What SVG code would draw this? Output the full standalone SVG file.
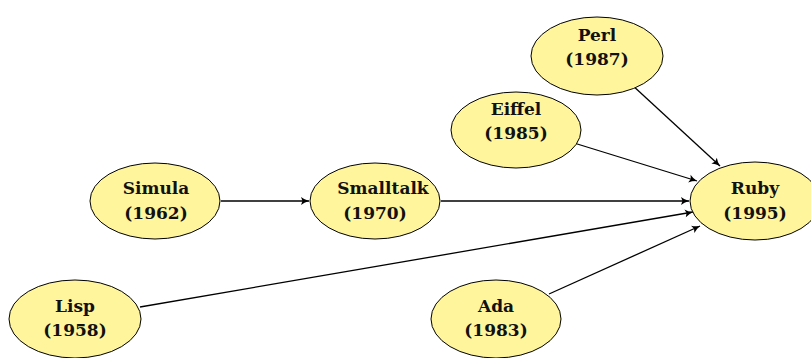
<svg xmlns="http://www.w3.org/2000/svg" width="811" height="358" viewBox="0 0 811 358">
<defs>
<marker id="arr" viewBox="-10 -5 12 10" refX="0" refY="0" markerWidth="12" markerHeight="10" markerUnits="userSpaceOnUse" orient="auto">
<path d="M0,0 Q-5,-1.5 -8,-4 L-6.5,0 L-8,4 Q-5,1.5 0,0 Z" fill="#000"/>
</marker>
</defs>
<style>
.n ellipse{fill:#fff59d;stroke:#000;stroke-width:1}
.n text{font-family:"DejaVu Serif","Liberation Serif",serif;font-weight:bold;font-size:17px;text-anchor:middle;fill:#111}
#edges line{stroke:#000;stroke-width:1.3;marker-end:url(#arr)}
</style>
<rect width="811" height="358" fill="#fff"/>
<g id="edges">
<line x1="221" y1="201" x2="309" y2="201"/>
<line x1="441" y1="201" x2="689" y2="201"/>
<line x1="140" y1="307" x2="693" y2="212"/>
<line x1="549" y1="294" x2="700" y2="226"/>
<line x1="574" y1="143" x2="697" y2="181"/>
<line x1="631" y1="84" x2="720" y2="166"/>
</g>
<g id="perl" class="n"><ellipse cx="597" cy="56" rx="66" ry="39"/><text x="597" y="41">Perl</text><text x="597" y="65">(1987)</text></g>
<g id="eiffel" class="n"><ellipse cx="516" cy="130" rx="65" ry="38"/><text x="516" y="115">Eiffel</text><text x="516" y="139">(1985)</text></g>
<g id="simula" class="n"><ellipse cx="155" cy="201" rx="65" ry="38"/><text x="156" y="194">Simula</text><text x="156" y="219">(1962)</text></g>
<g id="smalltalk" class="n"><ellipse cx="375" cy="201" rx="65" ry="38"/><text x="383" y="194">Smalltalk</text><text x="375" y="219">(1970)</text></g>
<g id="ruby" class="n"><ellipse cx="755" cy="201" rx="65" ry="39"/><text x="755" y="194">Ruby</text><text x="755" y="219">(1995)</text></g>
<g id="lisp" class="n"><ellipse cx="75" cy="319" rx="66" ry="39"/><text x="75" y="312">Lisp</text><text x="75" y="336">(1958)</text></g>
<g id="ada" class="n"><ellipse cx="496" cy="319" rx="65" ry="39"/><text x="496" y="312">Ada</text><text x="496" y="336">(1983)</text></g>
</svg>
